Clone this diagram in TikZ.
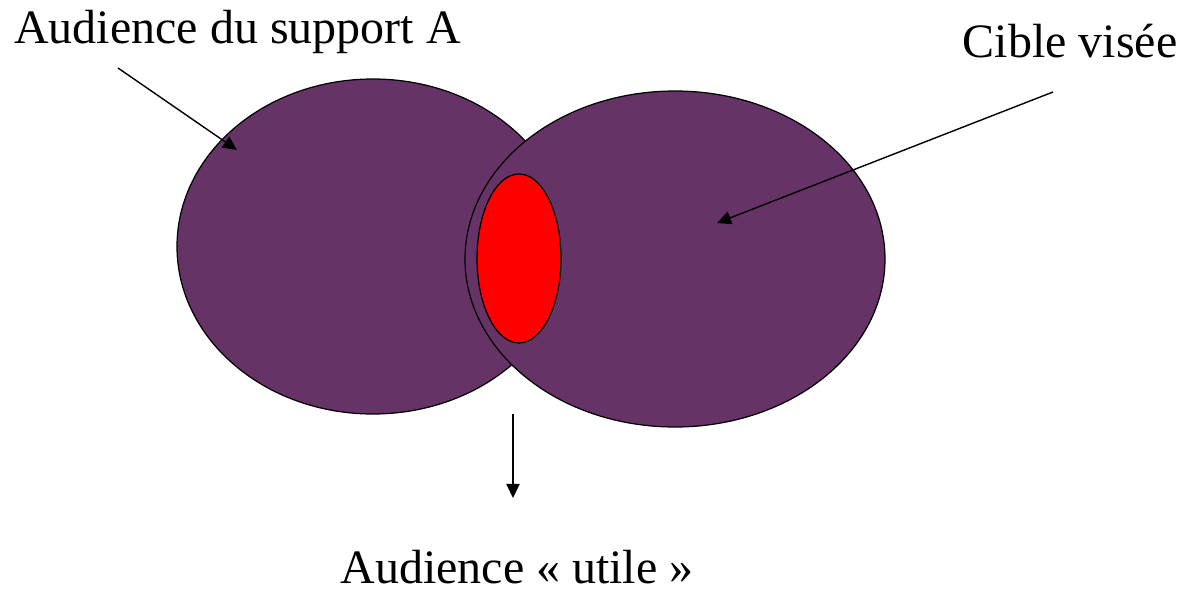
\documentclass[tikz,border=0pt]{standalone}
\usepackage{fontspec}
\setmainfont{Liberation Serif}
\usetikzlibrary{arrows.meta}

\definecolor{plum}{RGB}{102,51,102}

\tikzset{
    zone/.style={draw=black, line width=0.7pt, fill=plum},
    pointer/.style={line width=0.8pt, -{Triangle[length=8pt,width=7.5pt]}},
    caption/.style={font=\fontsize{27.3}{32}\selectfont, inner sep=0pt}
}

\begin{document}
\begin{tikzpicture}
    \useasboundingbox (0,0) rectangle (23.68,11.88);

    % Draw the two audiences
    \filldraw[zone] (7.46,6.95) ellipse (3.92cm and 3.35cm);
    \filldraw[zone] (13.5,6.70) ellipse (4.2cm and 3.36cm);

    % Useful part
    \filldraw[zone, fill=red] (10.38,6.71) ellipse (0.84cm and 1.69cm);

    % Labels
    \node[caption, anchor=base west] (support) at (0.28,11.02) {Audience du support A};
    \node[caption, anchor=base] (cible) at (21.4,10.74) {Cible visée};
    \node[caption, anchor=base] (utile) at (10.34,0.22) {Audience « utile »};

    % Arrow ends
    \coordinate (s1) at (2.36,10.52);
    \coordinate (e1) at (4.74,8.88);
    \coordinate (s2) at (21.06,10.04);
    \coordinate (e2) at (14.34,7.42);
    \coordinate (s3) at (10.26,3.60);
    \coordinate (e3) at (10.26,1.92);

    \draw[pointer] (s1) -- (e1);
    \draw[pointer] (s2) -- (e2);
    \draw[pointer] (s3) -- (e3);

\end{tikzpicture}
\end{document}
